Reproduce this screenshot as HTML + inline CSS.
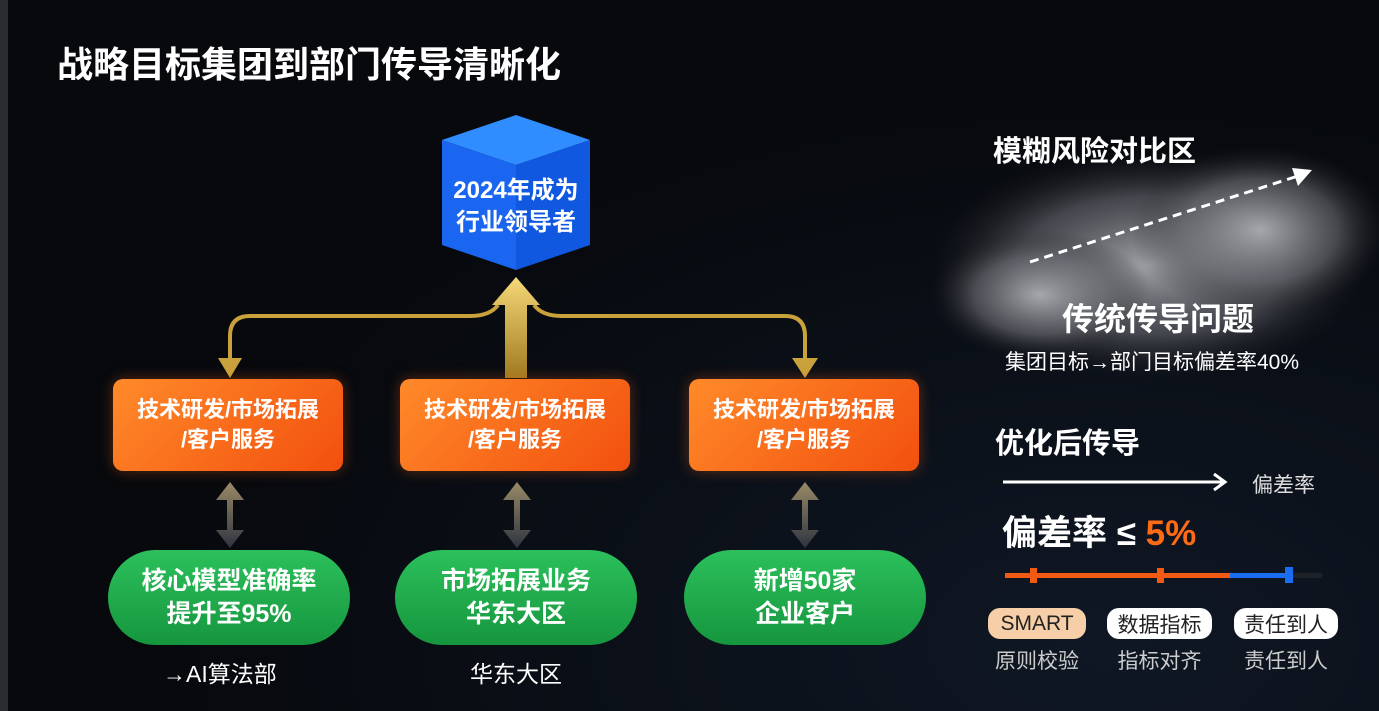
<!DOCTYPE html>
<html><head><meta charset="utf-8"><style>
*{margin:0;padding:0;box-sizing:border-box}
body{width:1379px;height:711px;overflow:hidden;background:#07090d;font-family:"Liberation Sans","Noto Sans CJK SC",sans-serif;color:#fff;position:relative}
.a{position:absolute;white-space:nowrap}
.b{font-weight:bold}
.or{position:absolute;top:379px;width:230px;height:92px;border-radius:10px;background:linear-gradient(135deg,#ff8a2a,#f2500e);box-shadow:0 0 14px rgba(255,100,20,.35);display:flex;align-items:center;justify-content:center;text-align:center;font-size:22px;font-weight:bold;line-height:30px}
.gr{position:absolute;top:550px;width:242px;height:95px;border-radius:48px;background:linear-gradient(180deg,#2cc05c,#16963e);display:flex;align-items:center;justify-content:center;text-align:center;font-size:25px;font-weight:bold;line-height:33px}
.pill{position:absolute;top:608px;height:31px;border-radius:12px;background:#fff;color:#222;font-size:21px;display:flex;align-items:center;justify-content:center}
.sub{position:absolute;top:645px;font-size:21px;color:#ccc;text-align:center}
</style></head><body>
<div style="position:absolute;left:0;top:0;width:8px;height:711px;background:#2a2c30"></div>
<div style="position:absolute;left:0;top:0;width:1379px;height:711px;background:radial-gradient(ellipse at 80% 90%,rgba(30,50,80,.35),transparent 60%)"></div>
<div class="a b" style="left:57px;top:36px;font-size:36px">战略目标集团到部门传导清晰化</div>

<svg class="a" style="left:0;top:0" width="1379" height="711">
<defs>
<linearGradient id="gold" x1="0" y1="0" x2="0" y2="1"><stop offset="0" stop-color="#f5d878"/><stop offset="1" stop-color="#a07a20"/></linearGradient>
<linearGradient id="dbl" x1="0" y1="0" x2="0" y2="1"><stop offset="0" stop-color="#9a8a66"/><stop offset="1" stop-color="#2e3440"/></linearGradient>
<radialGradient id="cl" cx="0.5" cy="0.5" r="0.5"><stop offset="0" stop-color="#b0b2b6" stop-opacity=".9"/><stop offset=".6" stop-color="#6a6c72" stop-opacity=".6"/><stop offset="1" stop-color="#222" stop-opacity="0"/></radialGradient>
</defs>
<ellipse cx="1150" cy="265" rx="220" ry="115" fill="url(#cl)"/>
<ellipse cx="1260" cy="230" rx="130" ry="85" fill="url(#cl)"/>
<ellipse cx="1040" cy="295" rx="110" ry="65" fill="url(#cl)"/>
<line x1="1030" y1="262" x2="1298" y2="176" stroke="#fff" stroke-width="3" stroke-dasharray="9,6"/>
<polygon points="1312,170 1292,168 1298,186" fill="#fff"/>
<polygon points="516,115 590,140 516,165 442,140" fill="#2f8dff"/>
<polygon points="442,140 516,165 516,270 442,245" fill="#1a66f0"/>
<polygon points="516,165 590,140 590,245 516,270" fill="#1058e0"/>
<path d="M498,305 Q490,316 470,316 L250,316 Q230,316 230,336 L230,362" fill="none" stroke="#c9a23c" stroke-width="4"/>
<polygon points="218,358 242,358 230,378" fill="#c9a23c"/>
<path d="M534,305 Q542,316 562,316 L785,316 Q805,316 805,336 L805,362" fill="none" stroke="#c9a23c" stroke-width="4"/>
<polygon points="792,358 818,358 805,378" fill="#c9a23c"/>
<polygon points="516,277 540,305 527,305 527,378 505,378 505,305 492,305" fill="url(#gold)"/>
<g fill="url(#dbl)">
<polygon points="230,482 244,500 233,500 233,530 244,530 230,548 216,530 227,530 227,500 216,500"/>
<polygon points="517,482 531,500 520,500 520,530 531,530 517,548 503,530 514,530 514,500 503,500"/>
<polygon points="805,482 819,500 808,500 808,530 819,530 805,548 791,530 802,530 802,500 791,500"/>
</g>
<line x1="1003" y1="482" x2="1224" y2="482" stroke="#fff" stroke-width="3"/>
<polyline points="1214,474 1225,482 1214,490" fill="none" stroke="#fff" stroke-width="3"/>
<rect x="1005" y="573" width="225" height="5" fill="#f25a14"/>
<rect x="1230" y="573" width="60" height="5" fill="#1a6cf0"/>
<rect x="1290" y="573" width="32" height="5" fill="#1e2228"/>
<rect x="1030" y="568" width="7" height="15" fill="#f25a14"/>
<rect x="1157" y="568" width="7" height="15" fill="#f25a14"/>
<rect x="1285" y="567" width="8" height="16" fill="#1a6cf0"/>
</svg>

<div class="a b" style="left:438px;top:175px;width:156px;text-align:center;font-size:24px;line-height:32px">2024年成为<br>行业领导者</div>

<div class="or" style="left:113px">技术研发/市场拓展<br>/客户服务</div>
<div class="or" style="left:400px">技术研发/市场拓展<br>/客户服务</div>
<div class="or" style="left:689px">技术研发/市场拓展<br>/客户服务</div>

<div class="gr" style="left:108px">核心模型准确率<br>提升至95%</div>
<div class="gr" style="left:395px">市场拓展业务<br>华东大区</div>
<div class="gr" style="left:684px">新增50家<br>企业客户</div>

<div class="a" style="left:163px;top:655px;font-size:23px">→AI算法部</div>
<div class="a" style="left:470px;top:655px;font-size:23px">华东大区</div>

<div class="a b" style="left:993px;top:128px;font-size:29px">模糊风险对比区</div>
<div class="a b" style="left:1062px;top:294px;font-size:32px">传统传导问题</div>
<div class="a" style="left:1005px;top:346px;font-size:21px">集团目标→部门目标偏差率40%</div>
<div class="a b" style="left:995px;top:420px;font-size:29px">优化后传导</div>
<div class="a" style="left:1252px;top:469px;font-size:21px;color:#ddd">偏差率</div>
<div class="a b" style="left:1002px;top:505px;font-size:35px">偏差率 ≤ <span style="color:#ff6a14">5%</span></div>

<div class="pill" style="left:988px;width:98px;background:#f6cfa8">SMART</div>
<div class="pill" style="left:1107px;width:105px">数据指标</div>
<div class="pill" style="left:1234px;width:104px">责任到人</div>
<div class="sub" style="left:983px;width:108px">原则校验</div>
<div class="sub" style="left:1102px;width:115px">指标对齐</div>
<div class="sub" style="left:1229px;width:114px">责任到人</div>
</body></html>
